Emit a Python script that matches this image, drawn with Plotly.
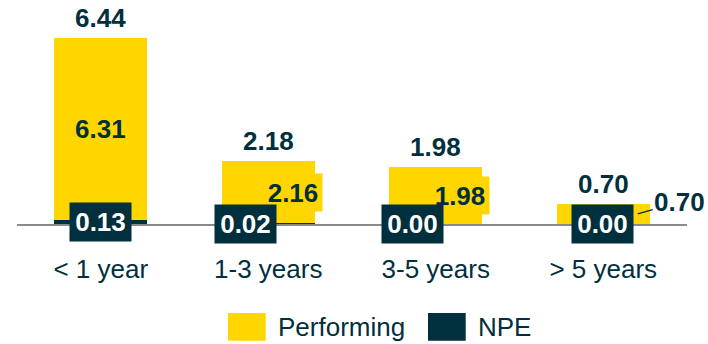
import plotly.graph_objects as go

categories = ["< 1 year", "1-3 years", "3-5 years", "> 5 years"]
npe = [0.13, 0.02, 0.00, 0.00]
performing = [6.31, 2.16, 1.98, 0.70]
totals = [6.44, 2.18, 1.98, 0.70]

YELLOW = "#FFD600"
DARK = "#002F3E"
GRAY = "#8A8A8A"
FONT = "Arial, Liberation Sans, sans-serif"

W, H = 708, 344
L, R, T, B = 17, 21, 0, 120
PX_PER_UNIT = 28.9
plot_h = H - T - B
ymax = plot_h / PX_PER_UNIT

fig = go.Figure()
fig.add_trace(go.Bar(x=categories, y=npe, name="NPE", marker=dict(color=DARK, line=dict(width=0))))
fig.add_trace(go.Bar(x=categories, y=performing, name="Performing", marker=dict(color=YELLOW, line=dict(width=0))))

ann = []
# totals above each stack
for c, t in zip(categories, totals):
    ann.append(dict(x=c, y=t, text=f"<b>{t:.2f}</b>", showarrow=False, yanchor="middle", yshift=20,
                    font=dict(size=26, color=DARK, family=FONT)))

# performing segment labels
perf_shift = [0, 24.5, 24.5, None]
for i, (c, p, n) in enumerate(zip(categories, performing, npe)):
    mid = n + p / 2
    if perf_shift[i] is None:
        ann.append(dict(x=c, y=mid, xshift=34.5, ax=42, ay=-12, showarrow=True, arrowhead=0,
                        arrowwidth=1.5, arrowcolor=DARK, text=f"<b>{p:.2f}</b>",
                        font=dict(size=26, color=DARK, family=FONT)))
    elif perf_shift[i] == 0:
        ann.append(dict(x=c, y=mid, showarrow=False, text=f"<b>{p:.2f}</b>",
                        font=dict(size=26, color=DARK, family=FONT)))
    else:
        ann.append(dict(x=c, y=mid, xshift=perf_shift[i], showarrow=False, text=f"<b>{p:.2f}</b>",
                        bgcolor=YELLOW, width=56, height=35,
                        font=dict(size=26, color=DARK, family=FONT)))

# NPE segment labels in dark boxes
npe_shift = [0, -23, -23.5, -1]
for c, n, s in zip(categories, npe, npe_shift):
    ann.append(dict(x=c, y=n / 2, xshift=s, showarrow=False, text=f"<b>{n:.2f}</b>",
                    bgcolor=DARK, width=59, height=36,
                    font=dict(size=26, color="white", family=FONT)))

# legend drawn below the chart
def px_x(px):
    return (px - L) / (W - L - R)

def px_y(py):
    return (H - B - py) / plot_h

shapes = []
legend_items = [("Performing", YELLOW, 228), ("NPE", DARK, 428)]
for name, col, x0 in legend_items:
    shapes.append(dict(type="rect", xref="paper", yref="paper", x0=px_x(x0), x1=px_x(x0 + 37.7),
                       y0=px_y(340.7), y1=px_y(313), fillcolor=col, line=dict(width=0)))
    ann.append(dict(xref="paper", yref="paper", x=px_x(x0 + 48), y=px_y(327), xanchor="left",
                    yanchor="middle", showarrow=False, text=name,
                    font=dict(size=26, color=DARK, family=FONT)))

fig.update_layout(
    width=W, height=H, margin=dict(l=L, r=R, t=T, b=B, autoexpand=False),
    barmode="stack", bargap=0.445, showlegend=False,
    paper_bgcolor="white", plot_bgcolor="white",
    annotations=ann, shapes=shapes,
    xaxis=dict(showline=True, linecolor=GRAY, linewidth=2, showgrid=False, ticks="",
               range=[-0.5, 3.5], automargin=False,
               tickfont=dict(size=26, color=DARK, family=FONT), ticklabelstandoff=21,
               layer="below traces"),
    yaxis=dict(range=[0, ymax], visible=False, showgrid=False, zeroline=False, automargin=False),
)

fig.write_html("out.html")
